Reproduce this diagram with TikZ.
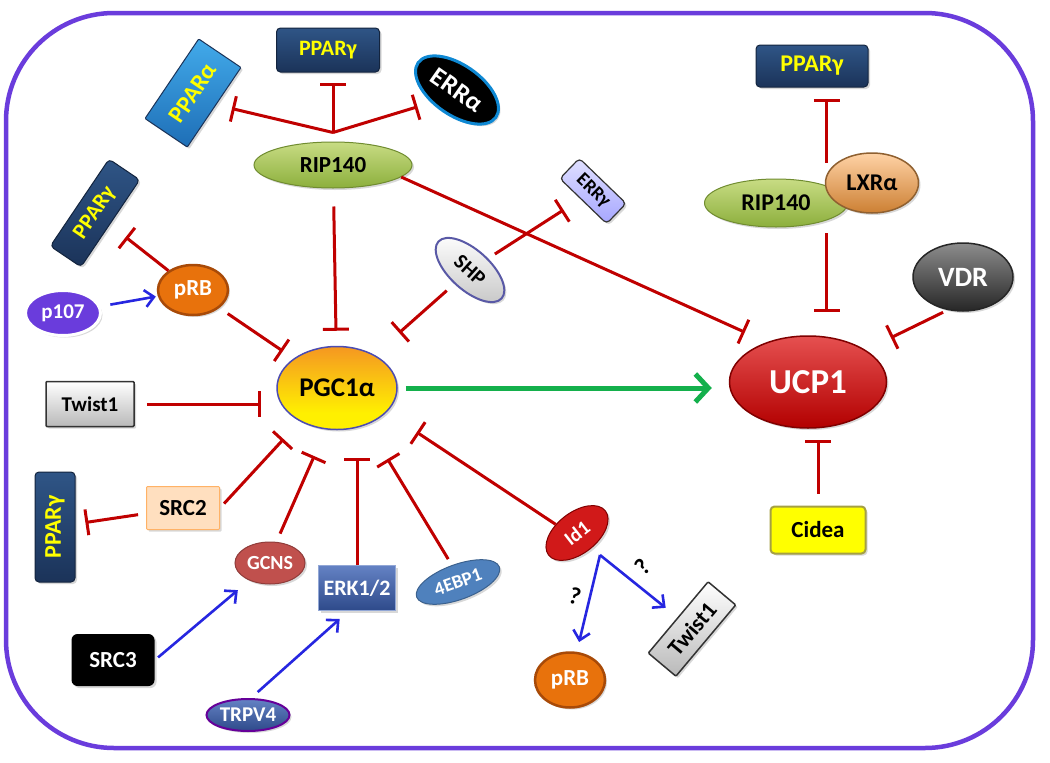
\documentclass[tikz,border=0pt]{standalone}
\usepackage{fontspec}
\setmainfont{Carlito}
\usepackage{tikz}
\usetikzlibrary{arrows.meta,shapes.geometric,shadows}
\definecolor{cellrim}{HTML}{6A3CDC}
\definecolor{inhred}{HTML}{C00000}
\definecolor{actblue}{HTML}{2626E0}
\definecolor{gogreen}{HTML}{14B04C}
\definecolor{navy}{HTML}{1B3359}
\definecolor{navyhi}{HTML}{2F5586}
\definecolor{ppyel}{HTML}{FFFF00}
\definecolor{ripA}{HTML}{C8DC84}
\definecolor{ripB}{HTML}{8CAF3C}
\definecolor{prbfill}{HTML}{E8720C}
\definecolor{prbrim}{HTML}{A84A08}
\definecolor{pgcyel}{HTML}{FFF000}
\definecolor{pgcorg}{HTML}{F6A21E}
\definecolor{pgcred}{HTML}{F27424}
\definecolor{pgcpnk}{HTML}{E8489A}
\definecolor{ppahi}{HTML}{42AAEA}
\definecolor{ppalo}{HTML}{1E6EB6}
\definecolor{gcnsred}{HTML}{C0504D}
\definecolor{erkhi}{HTML}{6482C4}
\definecolor{erklo}{HTML}{2E4A8A}
\definecolor{ebpblue}{HTML}{4F81BD}
\pgfdeclareverticalshading{pgcshade}{100bp}{color(0bp)=(pgcpnk); color(6bp)=(pgcyel); color(35bp)=(pgcyel); color(70bp)=(pgcorg); color(92bp)=(pgcred); color(100bp)=(pgcpnk)}
\newcommand\fsz[1]{\fontsize{#1}{#1}\selectfont}
\tikzset{
  inh/.style={draw=inhred, line width=3pt, -{Bar[width=26pt]}},
  act/.style={draw=actblue, line width=2.6pt, -{Straight Barb[length=9pt,width=17pt]}},
  go/.style={draw=gogreen, line width=5pt, -{Straight Barb[length=13pt,width=28pt]}},
  fs/.style={font=\bfseries\fsz{#1}},
  mol/.style={inner sep=0pt, line width=1pt, font=\bfseries,
    drop shadow={shadow xshift=2pt, shadow yshift=-2pt, opacity=0.3}},
  box/.style={mol, rectangle, rounded corners=4pt},
  oval/.style={mol, ellipse},
  ppar/.style={box, top color=navyhi, bottom color=navy, draw=navy!70!black, text=ppyel},
  rip/.style={oval, top color=ripA, bottom color=ripB, draw=ripB!80!black, text=black},
  prb/.style={oval, fill=prbfill, draw=prbrim, line width=2.5pt, text=white},
  tw/.style={box, rounded corners=1pt, top color=white, bottom color=gray!55, draw=black!80, line width=1.5pt, text=black},
}
\begin{document}
\begin{tikzpicture}[x=1pt,y=-1pt]
  \fill[white] (0,0) rectangle (1050,763);
  \draw[cellrim, line width=4.5pt, rounded corners=108pt] (6,13) rectangle (1033,748);

  \node[ppar, fs=22, minimum width=103pt, minimum height=44pt] (ppg1) at (328,50) {PPARγ};
  \node[box, fs=24, rounded corners=1pt, rotate=56, minimum width=96pt, minimum height=51pt,
        top color=ppahi, bottom color=ppalo, draw=navy, text=ppyel] (ppa) at (193,93) {PPARα};
  \node[oval, fs=26, rotate=-35, minimum width=95pt, minimum height=50pt,
        fill=black, draw=cyan!70!blue, line width=3pt, text=white] (erra) at (457,90) {ERRα};
  \node[rip, fs=23, minimum width=158pt, minimum height=46pt] (rip1) at (333,165) {RIP140};
  \node[ppar, fs=22, rotate=56, minimum width=105pt, minimum height=37pt] (ppgL) at (95,213) {PPARγ};
  \node[prb, fs=23, minimum width=70pt, minimum height=50pt] (prbL) at (193,290) {pRB};
  \node[oval, fs=21, minimum width=75pt, minimum height=45pt, fill=cellrim, draw=white, line width=3pt, text=white] (p107) at (63,313) {p107};
  \node[oval, fs=21, rotate=-42, minimum width=85pt, minimum height=40pt,
        top color=white, bottom color=gray!45, draw=blue!30!gray, line width=2pt] (shp) at (470,270) {SHP};
  \node[box, fs=19, rotate=-44, minimum width=65pt, minimum height=28pt,
        top color=blue!12, bottom color=blue!35, draw=black!80, line width=1.2pt] (errg) at (593,191) {ERRγ};
  \node[oval, fs=27, minimum width=120pt, minimum height=83pt, shading=pgcshade, draw=blue!40!gray, line width=1.5pt] (pgc) at (337,388) {PGC1α};
  \node[tw, fs=21, minimum width=88pt, minimum height=45pt] (tw1L) at (90,404) {Twist1};
  \node[box, fs=23, rounded corners=1pt, minimum width=73pt, minimum height=43pt, fill=orange!25, draw=orange!60] (src2) at (183,508) {SRC2};
  \node[ppar, fs=24, rotate=90, minimum width=110pt, minimum height=40pt] (ppgV) at (55,527) {PPARγ};
  \node[oval, fs=20, minimum width=70pt, minimum height=42pt, fill=gcnsred, draw=gcnsred!75!black, text=white] (gcns) at (270,563) {GCNS};
  \node[box, fs=22, rounded corners=0pt, minimum width=77pt, minimum height=45pt,
        top color=erkhi, bottom color=erklo, draw=erkhi!70!white, text=white] (erk) at (357,588) {ERK1/2};
  \node[oval, fs=19, rotate=20, minimum width=88pt, minimum height=35pt, fill=ebpblue, draw=ebpblue!75!black, text=white] (ebp) at (458,582) {4EBP1};
  \node[oval, fs=20, rotate=38, minimum width=72pt, minimum height=41pt, fill=red!80!black!90, draw=red!50!black, text=white] (id1) at (577,533) {Id1};
  \node[box, fs=23, rounded corners=6pt, minimum width=83pt, minimum height=52pt, fill=black, text=white] (src3) at (113,660) {SRC3};
  \node[oval, fs=21, minimum width=83pt, minimum height=32pt,
        top color=erkhi, bottom color=erklo, draw=violet!80!blue, line width=2pt, text=white] (trpv) at (248,715) {TRPV4};
  \node[prb, fs=23, minimum width=70pt, minimum height=55pt] (prbB) at (570,680) {pRB};
  \node[tw, fs=23, rotate=50, minimum width=93pt, minimum height=36pt] (tw1B) at (692,629) {Twist1};
  \node[fs=24, rotate=-16] (q1) at (575,596) {?};
  \node[fs=24, rotate=45] (q2) at (643,567) {?};

  \node[oval, fs=35, minimum width=157pt, minimum height=92pt,
        top color=red!65!white!90!black, bottom color=red!70!black, draw=red!50!black, line width=1.5pt, text=white] (ucp) at (808,382) {UCP1};
  \node[box, fs=23, minimum width=95pt, minimum height=47pt, fill=ppyel, draw=yellow!60!black, line width=2pt] (cidea) at (818,530) {Cidea};
  \node[oval, fs=28, minimum width=100pt, minimum height=68pt,
        top color=gray!90, bottom color=black!85, draw=black!85, line width=1.5pt, text=white] (vdr) at (963,277) {VDR};
  \node[ppar, fs=24, minimum width=112pt, minimum height=42pt] (ppg2) at (812,66) {PPARγ};
  \node[rip, fs=24, minimum width=143pt, minimum height=48pt] (rip2) at (776,203) {RIP140};
  \node[oval, fs=24, minimum width=93pt, minimum height=60pt,
        top color=orange!35, bottom color=brown!80!orange, draw=brown!75!black, line width=1.5pt] (lxr) at (872,183) {LXRα};

  \coordinate (ripj) at ([yshift=9pt]rip1.north);
  \coordinate (idj) at (600,555);

  \draw[inh, shorten >=10pt] (ripj) -- (ripj |- ppg1.south);
  \draw[inh, shorten >=16pt] (ripj) -- (ppa.-83);
  \draw[inh, shorten >=14pt] (ripj) -- (erra.-119);
  \draw[inh, shorten <=18pt, shorten >=15pt] (rip1) -- (pgc);
  \draw[inh, shorten >=24pt] (rip1.-10) -- (ucp.136);
  \draw[inh, shorten >=20pt] (prbL) -- (ppgL);
  \draw[act, shorten <=10pt, shorten >=2pt] (p107) -- (prbL);
  \draw[inh, shorten <=10pt, shorten >=13pt] (prbL) -- (pgc);
  \draw[inh, shorten <=10pt, shorten >=33pt] (shp) -- (pgc);
  \draw[inh, shorten <=8pt, shorten >=20pt] (shp) -- (errg);
  \draw[inh, shorten <=12pt, shorten >=15pt] (tw1L) -- (tw1L -| pgc.west);
  \draw[inh, shorten <=8pt, shorten >=10pt] (src2) -- (ppgV);
  \draw[inh, shorten <=6pt, shorten >=24pt] (src2.east) -- (pgc.222);
  \draw[inh, shorten <=9pt, shorten >=29pt] (gcns.73) -- (pgc.255);
  \draw[inh, shorten >=27.5pt] (erk.north) -- (erk.north |- pgc.south);
  \draw[inh, shorten <=7pt, shorten >=40pt] (ebp.north) -- (pgc.-51);
  \draw[inh, shorten >=36pt] (id1.120) -- (pgc.-26);
  \draw[act, shorten >=10pt] (idj) -- (prbB);
  \draw[act, shorten >=15pt] (idj) -- (tw1B);
  \draw[act, shorten <=4pt, shorten >=15pt] (src3.east) -- (gcns);
  \draw[act, shorten <=9pt, shorten >=12pt] (trpv.80) -- (erk.250);
  \draw[go, shorten <=8pt, shorten >=17pt] (pgc) -- (pgc -| ucp.west);
  \draw[inh, shorten <=12pt, shorten >=11pt] (cidea.north) -- (cidea.north |- ucp.south);
  \draw[inh, shorten <=5pt, shorten >=28pt] (vdr.-115) -- (ucp.29);
  \draw[inh, shorten <=23pt, shorten >=11pt] (rip2.north east) -- (rip2.north east |- ppg2.south);
  \draw[inh, shorten <=13pt, shorten >=23pt] (rip2.south east) -- (rip2.south east |- ucp.north);
\end{tikzpicture}
\end{document}
